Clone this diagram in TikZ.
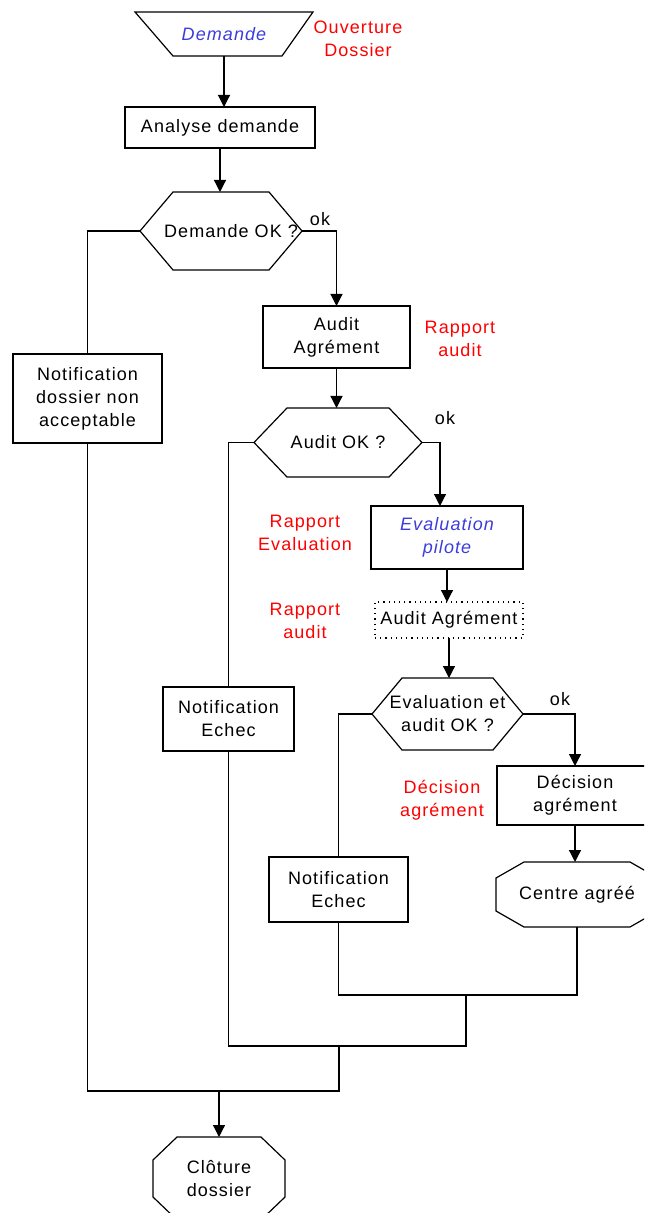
\documentclass[tikz,border=0pt]{standalone}
\usepackage{fontspec}
\setmainfont{Liberation Sans}[LetterSpace=6]
\usetikzlibrary{arrows.meta}
\definecolor{demblue}{RGB}{60,60,220}

\newcommand{\hexshape}[2]{
    \draw (#1.west) -- ([shift={(#2,0)}]#1.north west) -- ([shift={(-#2,0)}]#1.north east) -- (#1.east) -- ([shift={(-#2,0)}]#1.south east) -- ([shift={(#2,0)}]#1.south west) -- cycle;
}
\newcommand{\octshape}[3]{
    \draw ([shift={(#2,0)}]#1.north west) -- ([shift={(-#2,0)}]#1.north east) -- ([shift={(0,#3)}]#1.north east) -- ([shift={(0,-#3)}]#1.south east) -- ([shift={(-#2,0)}]#1.south east) -- ([shift={(#2,0)}]#1.south west) -- ([shift={(0,-#3)}]#1.south west) -- ([shift={(0,#3)}]#1.north west) -- cycle;
}

\begin{document}
\begin{tikzpicture}[x=0.5pt, y=-0.5pt, line width=0.6pt]
        \tikzstyle{bare}=[inner sep=0pt,outer sep=0pt,align=center,font=\fontsize{9}{11.5}\selectfont]
        \tikzstyle{box}=[bare,draw]
        \tikzstyle{dotbox}=[box,dotted]
        \tikzstyle{note}=[bare,text=red]
        \tikzstyle{arr}=[-{Triangle[length=6pt,width=6pt]}]

        \useasboundingbox (0,0) rectangle (644,1213);
        \clip (0,0) rectangle (644,1213);

        \node[bare,minimum width=89pt,minimum height=22pt] (D_1) at (224,34) {\textcolor{demblue}{\itshape Demande}};
        \node[box,minimum width=95pt,minimum height=20.5pt] (A_1) at (220,127.5) {Analyse demande};
        \node[bare,minimum width=81pt,minimum height=39pt] (Q_1) at (221,231) {\hspace*{10pt}Demande OK ?};
        \node[box,minimum width=74.5pt,minimum height=44.5pt] (N_1) at (87.5,398.5) {Notification\\dossier non\\acceptable};
        \node[box,minimum width=73.5pt,minimum height=31pt] (A_2) at (336.5,337) {Audit\\Agrément};
        \node[bare,minimum width=84pt,minimum height=34.5pt] (Q_2) at (338,442.5) {Audit OK ?};
        \node[box,minimum width=76pt,minimum height=31.5pt] (E_1) at (447,537.5) {\textcolor{demblue}{\itshape Evaluation}\\\textcolor{demblue}{\itshape pilote}};
        \node[dotbox,minimum width=74pt,minimum height=18pt] (A_3) at (449,620) {Audit Agrément};
        \node[bare,minimum width=75.5pt,minimum height=36pt] (Q_3) at (447.5,714) {Evaluation et\\audit OK ?};
        \node[box,minimum width=65.5pt,minimum height=32pt] (N_2) at (228.5,719) {Notification\\Echec};
        \node[box,minimum width=78pt,minimum height=29.5pt] (D_2) at (575,795.5) {Décision\\agrément};
        \node[box,minimum width=69.5pt,minimum height=32.5pt] (N_3) at (338.5,889.5) {Notification\\Echec};
        \node[bare,minimum width=81pt,minimum height=32.5pt] (C_1) at (577,894.5) {Centre agréé};
        \node[bare,minimum width=66pt,minimum height=41.5pt] (C_2) at (219,1178.5) {Clôture\\dossier};

        \node[note] (R_1) at (358,39) {Ouverture\\Dossier};
        \node[note] (R_2) at (460,339) {Rapport\\audit};
        \node[note] (R_3) at (305,533) {Rapport\\Evaluation};
        \node[note] (R_4) at (305,621) {Rapport\\audit};
        \node[note] (R_5) at (442,800) {Décision\\agrément};

        \node[bare] (K_1) at ([shift={(18,-12)}]Q_1.east) {ok};
        \node[bare] (K_2) at ([shift={(23,-24)}]Q_2.east) {ok};
        \node[bare] (K_3) at ([shift={(37,-15)}]Q_3.east) {ok};

        \draw (D_1.north west) -- (D_1.north east) -- ([shift={(-31,0)}]D_1.south east) -- ([shift={(38,0)}]D_1.south west) -- cycle;
        \hexshape{Q_1}{33}
        \hexshape{Q_2}{33}
        \hexshape{Q_3}{30}
        \octshape{C_1}{28}{16}
        \octshape{C_2}{24}{23}

        \coordinate (M_1) at (466,995);
        \coordinate (M_2) at (466,1046);
        \coordinate (M_3) at (339,1046);
        \coordinate (M_4) at (339,1091);

        \draw[arr] (D_1.south) -- (D_1.south |- A_1.north);
        \draw[arr] (A_1.south) -- (A_1.south |- Q_1.north);
        \draw[arr] (Q_1.east) -| (A_2.north);
        \draw (Q_1.west) -| (N_1.north);
        \draw[arr] (A_2.south) -- (A_2.south |- Q_2.north);
        \draw (Q_2.west) -| (N_2.north);
        \draw[arr] (Q_2.east) -| ([xshift=-3.5pt]E_1.north);
        \draw[arr] (E_1.south) -- (E_1.south |- A_3.north);
        \draw[arr] (A_3.south) -- (A_3.south |- Q_3.north);
        \draw (Q_3.west) -| (N_3.north);
        \draw[arr] (Q_3.east) -| (D_2.north);
        \draw[arr] (D_2.south) -- (D_2.south |- C_1.north);
        \draw (N_3.south) |- (M_1) -| (C_1.south);
        \draw (M_1) -- (M_2) -| (N_2.south);
        \draw (M_3) -- (M_4) -| (N_1.south);
        \draw[arr] (C_2.north |- M_4) -- (C_2.north);
\end{tikzpicture}
\end{document}
